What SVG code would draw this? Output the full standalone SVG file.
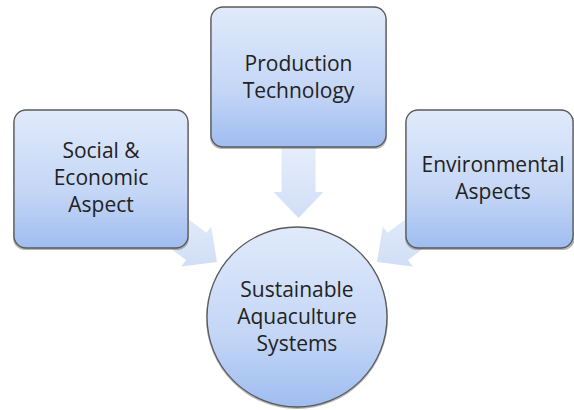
<svg xmlns="http://www.w3.org/2000/svg" width="574" height="410" viewBox="0 0 574 410">
<style>
.box{fill:url(#bg);stroke:#5a5a5a;stroke-width:1.3}
.sh{fill:#7a7a7a;opacity:0.55}
.arr{fill:url(#ag)}
.t{font-family:"Open Sans","Liberation Sans",sans-serif;font-size:21px;fill:#222222;text-anchor:middle}
</style>
<defs>
<linearGradient id="bg" x1="0" y1="0" x2="0" y2="1">
<stop offset="0" stop-color="#e0eafb"/>
<stop offset="0.6" stop-color="#c4d6f6"/>
<stop offset="1" stop-color="#9fbdf0"/>
</linearGradient>
<linearGradient id="ag" x1="0" y1="0" x2="0" y2="1">
<stop offset="0" stop-color="#e8effb"/>
<stop offset="1" stop-color="#d0def6"/>
</linearGradient>
</defs>
<g id="connectors">
<polygon class="arr" points="281.5,140 315.5,140 315.5,192 323.5,192 298.5,218 273.5,192 281.5,192"/>
<polygon class="arr" points="158.4,196.8 206.4,232.8 211.2,226.4 217,262 181.2,266.4 186,260 138,224"/>
<polygon class="arr" points="435.6,196.8 387.6,232.8 382.8,226.4 377,262 412.8,266.4 408,260 456,224"/>
</g>
<g id="node-social">
<rect class="sh" x="13" y="112" width="176" height="138" rx="12"/>
<rect class="box" x="14" y="110" width="174" height="138" rx="12"/>
<text class="t" x="101" y="158">Social &amp;</text>
<text class="t" x="101" y="185">Economic</text>
<text class="t" x="101" y="212">Aspect</text>
</g>
<g id="node-production">
<rect class="sh" x="210" y="9" width="177" height="140" rx="12"/>
<rect class="box" x="211" y="7" width="175" height="140" rx="12"/>
<text class="t" x="298.5" y="71">Production</text>
<text class="t" x="298.5" y="98">Technology</text>
</g>
<g id="node-environmental">
<rect class="sh" x="405" y="112" width="170" height="138" rx="12"/>
<rect class="box" x="406" y="110" width="167" height="138" rx="12"/>
<text class="t" x="493" y="172">Environmental</text>
<text class="t" x="493" y="199">Aspects</text>
</g>
<g id="node-sustainable">
<circle cx="297" cy="318" r="91" class="sh"/>
<circle cx="297" cy="317" r="90" class="box"/>
<text class="t" x="297" y="297">Sustainable</text>
<text class="t" x="297" y="324">Aquaculture</text>
<text class="t" x="297" y="351">Systems</text>
</g>
</svg>
